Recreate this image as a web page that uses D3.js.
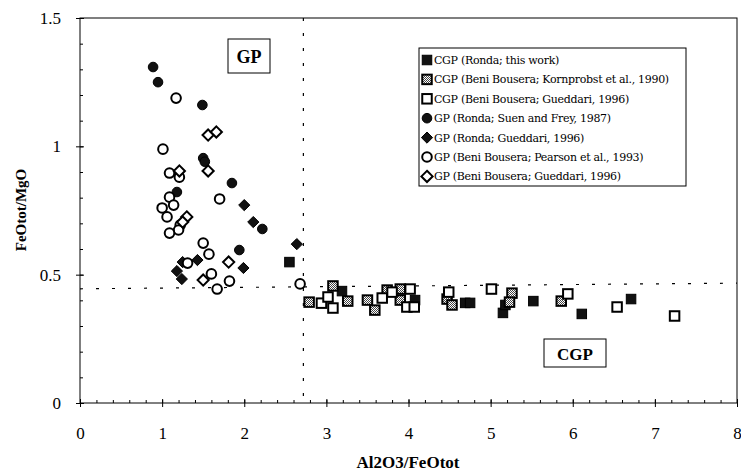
<!DOCTYPE html>
<html>
<head>
<meta charset="UTF-8" />
<script src="https://d3js.org/d3.v7.min.js"></script>
<style>
  * { margin: 0; padding: 0; }
  body { background: #fff; }
  text { font-family: "Liberation Serif", "Times New Roman", serif; fill: #000; }
</style>
</head>
<body>
<svg id="chart" width="741" height="475"></svg>
<script>
// axes
const xTicks = [0, 1, 2, 3, 4, 5, 6, 7, 8];
const yTicks = [0, 0.5, 1, 1.5];
const yTickLabels = ["0", "0.5", "1", "1.5"];

// CGP (Ronda; this work) - black squares
const cgpRonda = [[2.55, 0.549], [4.69, 0.39], [4.75, 0.39], [5.15, 0.351], [5.18, 0.382],
  [5.52, 0.397], [6.11, 0.347], [6.71, 0.405], [4.08, 0.401], [3.19, 0.436]];
// CGP (Beni Bousera; Kornprobst et al., 1990) - hatched squares
const cgpKorn = [[3.08, 0.456], [2.79, 0.393], [3.26, 0.397], [3.5, 0.401], [3.59, 0.362],
  [3.74, 0.44], [3.9, 0.444], [3.9, 0.401], [4.47, 0.405], [4.53, 0.382], [5.26, 0.428],
  [5.23, 0.393], [5.86, 0.397]];
// CGP (Beni Bousera; Gueddari, 1996) - open squares
const cgpGued = [[2.94, 0.389], [3.02, 0.413], [3.08, 0.37], [3.68, 0.409], [3.8, 0.432],
  [4.02, 0.444], [3.98, 0.374], [4.07, 0.374], [4.49, 0.432], [5.01, 0.444], [5.94, 0.425],
  [6.54, 0.374], [7.24, 0.339]];
// GP (Ronda; Suen and Frey, 1987) - filled circles
const gpSuen = [[0.89, 1.309], [0.95, 1.25], [1.49, 1.161], [1.5, 0.954], [1.52, 0.94],
  [1.85, 0.857], [1.18, 0.822], [2.22, 0.678], [1.94, 0.596]];
// GP (Ronda; Gueddari, 1996) - filled diamonds
const gpRondaGued = [[1.18, 0.514], [1.24, 0.483], [1.25, 0.549], [1.43, 0.557], [2.0, 0.771],
  [2.11, 0.705], [1.99, 0.526], [2.64, 0.619]];
// GP (Beni Bousera; Pearson et al., 1993) - open circles
const gpPearson = [[1.17, 1.188], [1.01, 0.989], [1.09, 0.896], [1.21, 0.88], [1.09, 0.802],
  [1.14, 0.771], [1.0, 0.76], [1.06, 0.725], [1.22, 0.693], [1.2, 0.674], [1.09, 0.662],
  [1.7, 0.795], [1.5, 0.623], [1.57, 0.58], [1.31, 0.545], [1.6, 0.503], [1.67, 0.444],
  [1.82, 0.475], [2.68, 0.464]];
// GP (Beni Bousera; Gueddari, 1996) - open diamonds
const gpBeniGued = [[1.56, 1.044], [1.66, 1.056], [1.21, 0.904], [1.56, 0.904], [1.3, 0.725],
  [1.25, 0.705], [1.81, 0.549], [1.5, 0.479]];

const legendLabels = [
  "CGP (Ronda; this work)",
  "CGP (Beni Bousera; Kornprobst et al., 1990)",
  "CGP (Beni Bousera; Gueddari, 1996)",
  "GP (Ronda; Suen and Frey, 1987)",
  "GP (Ronda; Gueddari, 1996)",
  "GP (Beni Bousera; Pearson et al., 1993)",
  "GP (Beni Bousera; Gueddari, 1996)"
];

const serif = '"Liberation Serif", "Times New Roman", serif';
const svg = d3.select("#chart");
const mLeft = 80, mRight = 737, mTop = 18, mBottom = 403;
const x = d3.scaleLinear().domain([0, 8]).range([mLeft, mRight]);
const y = d3.scaleLinear().domain([0, 1.5]).range([mBottom, mTop]);

// motif gris des carrés Kornprobst
const defs = svg.append("defs");
const pat = defs.append("pattern").attr("id", "hatch").attr("patternUnits", "userSpaceOnUse")
  .attr("width", 2).attr("height", 2);
pat.append("rect").attr("width", 2).attr("height", 2).attr("fill", "#fff");
pat.append("rect").attr("width", 1).attr("height", 1).attr("fill", "#444");
pat.append("rect").attr("x", 1).attr("y", 1).attr("width", 1).attr("height", 1).attr("fill", "#444");

// cadre
svg.append("rect").attr("x", mLeft).attr("y", mTop).attr("width", mRight - mLeft).attr("height", mBottom - mTop)
  .attr("fill", "none").attr("stroke", "#000").attr("stroke-width", 1);

// axe x
svg.append("g").attr("transform", `translate(0,${mBottom})`)
  .call(d3.axisBottom(x).tickValues(d3.range(0, 8.01, 0.2)).tickSize(-3).tickFormat(""))
  .call(g => g.select(".domain").remove());
svg.append("g").attr("transform", `translate(0,${mBottom + 4})`)
  .call(d3.axisBottom(x).tickValues(xTicks).tickSize(-8).tickPadding(20).tickFormat(d3.format("d")))
  .call(g => g.select(".domain").remove())
  .call(g => g.selectAll("text").attr("font-size", 17).style("font-family", serif));

// axe y
svg.append("g").attr("transform", `translate(${mLeft},0)`)
  .call(d3.axisLeft(y).tickValues(d3.range(0, 1.501, 0.1)).tickSize(-3).tickFormat(""))
  .call(g => g.select(".domain").remove());
svg.append("g").attr("transform", `translate(${mLeft - 4},0)`)
  .call(d3.axisLeft(y).tickValues(yTicks).tickSize(-8).tickPadding(15).tickFormat((d, i) => yTickLabels[i]))
  .call(g => g.select(".domain").remove())
  .call(g => g.selectAll("text").attr("font-size", 17).style("font-family", serif));

// titres des axes
svg.append("text").attr("x", 408).attr("y", 468).attr("text-anchor", "middle")
  .attr("font-size", 17).attr("font-weight", "bold").style("font-family", serif).text("Al2O3/FeOtot");
svg.append("text").attr("transform", "translate(26,210) rotate(-90)").attr("text-anchor", "middle")
  .attr("font-size", 15).attr("font-weight", "bold").style("font-family", serif).text("FeOtot/MgO");

// lignes pointillées
svg.append("line").attr("x1", x(0)).attr("y1", y(0.445)).attr("x2", x(8)).attr("y2", y(0.467))
  .attr("stroke", "#000").attr("stroke-width", 1.2).attr("stroke-dasharray", "3,13");
svg.append("line").attr("x1", x(2.72)).attr("y1", y(1.5)).attr("x2", x(2.72)).attr("y2", y(0))
  .attr("stroke", "#000").attr("stroke-width", 1.2).attr("stroke-dasharray", "3,12");

// symboles
function square(g, d, style) {
  const s = 9.5;
  g.append("rect").attr("x", x(d[0]) - s / 2).attr("y", y(d[1]) - s / 2).attr("width", s).attr("height", s)
    .attr("fill", style.fill).attr("stroke", "#000").attr("stroke-width", style.sw);
}
function circle(g, d, style) {
  g.append("circle").attr("cx", x(d[0])).attr("cy", y(d[1])).attr("r", 4.8)
    .attr("fill", style.fill).attr("stroke", "#000").attr("stroke-width", style.sw);
}
function diamond(g, d, style) {
  const r = 5.6, cx = x(d[0]), cy = y(d[1]);
  g.append("path").attr("d", `M${cx},${cy - r}L${cx + r},${cy}L${cx},${cy + r}L${cx - r},${cy}Z`)
    .attr("fill", style.fill).attr("stroke", "#000").attr("stroke-width", style.sw);
}

const series = [
  { data: cgpRonda, draw: square, fill: "#111", sw: 1 },
  { data: cgpKorn, draw: square, fill: "url(#hatch)", sw: 2 },
  { data: cgpGued, draw: square, fill: "#fff", sw: 2 },
  { data: gpSuen, draw: circle, fill: "#111", sw: 1 },
  { data: gpRondaGued, draw: diamond, fill: "#111", sw: 1 },
  { data: gpPearson, draw: circle, fill: "#fff", sw: 2 },
  { data: gpBeniGued, draw: diamond, fill: "#fff", sw: 2 }
];
const marks = svg.append("g");
series.forEach(s => s.data.forEach(d => s.draw(marks, d, s)));

// boites GP / CGP
svg.append("rect").attr("x", 228).attr("y", 39).attr("width", 42).attr("height", 34)
  .attr("fill", "#fff").attr("stroke", "#000");
svg.append("text").attr("x", 249).attr("y", 63).attr("text-anchor", "middle")
  .attr("font-size", 18).attr("font-weight", "bold").style("font-family", serif).text("GP");
svg.append("rect").attr("x", 544).attr("y", 339).attr("width", 62).attr("height", 28)
  .attr("fill", "#fff").attr("stroke", "#000");
svg.append("text").attr("x", 575).attr("y", 360).attr("text-anchor", "middle")
  .attr("font-size", 17).attr("font-weight", "bold").style("font-family", serif).text("CGP");

// légende
const lg = svg.append("g");
lg.append("rect").attr("x", 419).attr("y", 48).attr("width", 267).attr("height", 138)
  .attr("fill", "#fff").attr("stroke", "#000");
legendLabels.forEach((t, i) => {
  const ly = 60 + i * 19.4;
  const s = series[i];
  s.draw(lg, [x.invert(427), y.invert(ly)], s);
  lg.append("text").attr("x", 434).attr("y", ly + 4).attr("font-size", 11)
    .style("font-family", '"DejaVu Serif", serif').attr("letter-spacing", -0.3).text(t);
});
</script>
</body>
</html>
